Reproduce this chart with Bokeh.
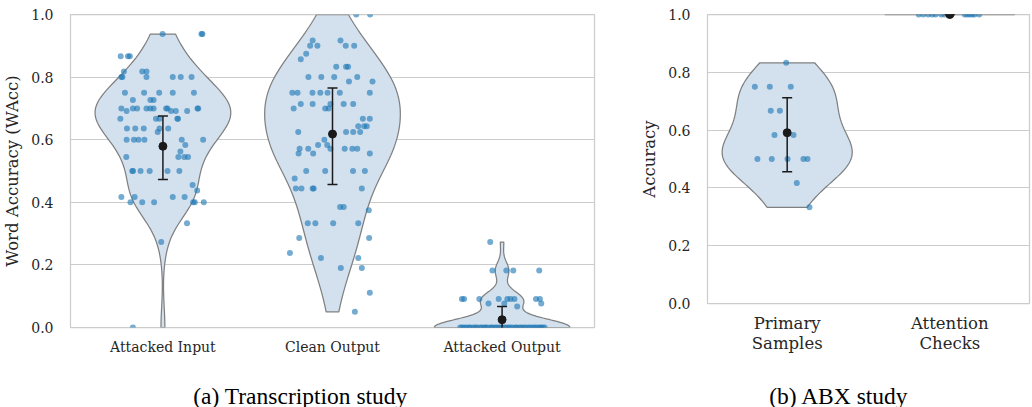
import numpy as np
from bokeh.plotting import figure
from bokeh.models import Range1d, FixedTicker, NumeralTickFormatter
from bokeh.layouts import row, column
from bokeh.core.properties import value
from bokeh.embed import file_html
from bokeh.resources import INLINE

# ---------------- data ----------------
cats_a = ["Attacked Input", "Clean Output", "Attacked Output"]
cats_b = ["Primary\nSamples", "Attention\nChecks"]
y_ticks = [0.0, 0.2, 0.4, 0.6, 0.8, 1.0]
captions = ["(a) Transcription study", "(b) ABX study"]

ai_vals = [0.9375, 0.9375, 0.9375,
           0.867, 0.867, 0.867,
           0.818, 0.8, 0.8,
           0.818, 0.818, 0.8,
           0.8, 0.8, 0.8,
           0.75, 0.75, 0.75, 0.75, 0.75,
           0.727, 0.727, 0.727,
           0.7, 0.7, 0.7, 0.7, 0.7, 0.7, 0.7, 0.7, 0.7, 0.7,
           0.692, 0.692, 0.692, 0.692,
           0.667, 0.667, 0.667, 0.667, 0.667,
           0.636, 0.636, 0.636, 0.636, 0.636,
           0.625,
           0.6, 0.6, 0.6, 0.6, 0.6, 0.6,
           0.583, 0.5625,
           0.545, 0.545, 0.545, 0.545,
           0.5, 0.5, 0.5, 0.5, 0.5, 0.5,
           0.455, 0.4375,
           0.417, 0.417, 0.417, 0.417,
           0.4, 0.4, 0.4, 0.4, 0.4, 0.4,
           0.333, 0.273, 0.0]
ai_jit = [-0.002, 0.233, 0.227,
          -0.249, -0.206, -0.195,
          -0.230, -0.239, -0.245,
          -0.122, -0.097, -0.097,
          0.058, 0.105, 0.169,
          -0.224, -0.111, -0.022, 0.058, 0.183,
          -0.177, -0.074, -0.055,
          -0.245, -0.177, -0.152, -0.097, -0.074, -0.055, 0.019, 0.027, 0.204, 0.208,
          -0.214, 0.048, 0.076, 0.143,
          -0.251, -0.041, -0.020, 0.085, 0.089,
          -0.212, -0.163, -0.113, -0.020, 0.031,
          -0.031,
          -0.214, -0.171, -0.144, -0.109, 0.111, 0.237,
          0.132, 0.103,
          -0.216, 0.091, 0.126, 0.148,
          -0.181, -0.176, -0.132, -0.078, 0.027, 0.097,
          0.175, 0.202,
          -0.245, -0.167, 0.058, 0.128,
          -0.191, -0.122, -0.052, 0.178, 0.188, 0.241,
          0.142, -0.010, -0.177]

co_vals = [1.0, 1.0,
           0.917, 0.917,
           0.9, 0.9, 0.9, 0.9,
           0.875, 0.857,
           0.833, 0.833, 0.833,
           0.8, 0.8, 0.8, 0.8,
           0.786, 0.786,
           0.75, 0.75, 0.75, 0.75, 0.75, 0.75, 0.75,
           0.714, 0.714, 0.714, 0.714, 0.714,
           0.7, 0.7, 0.7,
           0.667, 0.667,
           0.643, 0.643, 0.643,
           0.625, 0.625, 0.625, 0.625,
           0.6,
           0.571, 0.571, 0.571, 0.571, 0.571, 0.571,
           0.583, 0.583,
           0.556, 0.556, 0.556,
           0.5, 0.5, 0.5, 0.5,
           0.476,
           0.444, 0.444, 0.444, 0.444, 0.444,
           0.385, 0.385, 0.375,
           0.333, 0.333, 0.333, 0.333,
           0.286, 0.286,
           0.238,
           0.222, 0.222,
           0.19, 0.19,
           0.111, 0.05]
co_jit = [0.140, 0.222,
          -0.117, 0.047,
          -0.132, -0.089, 0.078, 0.128,
          -0.155, -0.187,
          0.022, 0.080, 0.092,
          -0.142, -0.066, 0.010, 0.146,
          0.097, 0.236,
          -0.237, -0.206, -0.118, -0.072, -0.029, 0.043, 0.220,
          -0.187, -0.117, -0.012, 0.066, 0.122,
          -0.229, -0.043, -0.023,
          0.179, 0.220,
          0.152, 0.187, 0.202,
          -0.202, 0.080, 0.122, 0.163,
          -0.048,
          -0.194, -0.143, -0.012, 0.072, 0.117, 0.146,
          -0.085, -0.031,
          -0.200, -0.114, 0.220,
          -0.155, -0.043, 0.121, 0.191,
          -0.223,
          -0.216, -0.183, -0.117, -0.111, 0.173,
          0.045, 0.066, 0.214,
          -0.146, -0.101, 0.004, 0.152,
          -0.196, 0.216,
          -0.251,
          -0.068, 0.152,
          0.049, 0.173,
          0.220, 0.132]

ao_vals = [0.273,
           0.182, 0.182, 0.182, 0.182,
           0.091, 0.091, 0.091, 0.091, 0.091, 0.091, 0.091, 0.091, 0.091,
           0.077, 0.077, 0.077, 0.067,
           0.0, 0.0, 0.0, 0.0, 0.0, 0.0, 0.0, 0.0, 0.0, 0.0,
           0.0, 0.0, 0.0, 0.0, 0.0, 0.0, 0.0, 0.0, 0.0, 0.0,
           0.0, 0.0, 0.0, 0.0, 0.0, 0.0, 0.0, 0.0, 0.0, 0.0,
           0.0, 0.0, 0.0, 0.0, 0.0, 0.0, 0.0, 0.0, 0.0, 0.0]
ao_jit = [-0.070,
          -0.057, 0.025, 0.066, 0.219,
          -0.237, -0.224, -0.134, -0.020, 0.031, 0.050, 0.073, 0.200, 0.223,
          -0.080, 0.013, 0.231, 0.089,
          -0.247, -0.236, -0.224, -0.211, -0.196, -0.188, -0.171, -0.158, -0.149, -0.131,
          -0.120, -0.104, -0.097, -0.083, -0.066, -0.058, -0.042, -0.031, -0.016, -0.004,
          0.009, 0.022, 0.036, 0.047, 0.061, 0.078, 0.086, 0.103, 0.114, 0.127,
          0.139, 0.154, 0.166, 0.181, 0.192, 0.205, 0.219, 0.228, 0.239, 0.251]

# per-category mean and error bar bounds (a)
a_mean = [0.579, 0.618, 0.025]
a_lo = [0.473, 0.457, -0.017]
a_hi = [0.676, 0.765, 0.067]

ps_vals = [0.833, 0.75, 0.75, 0.75, 0.667, 0.667, 0.583, 0.583,
           0.5, 0.5, 0.5, 0.5, 0.5, 0.417, 0.333]
ps_jit = [-0.006, -0.199, -0.107, 0.022, -0.101, -0.045, -0.078, 0.039,
          -0.183, -0.095, 0.002, 0.100, 0.125, 0.059, 0.137]
ac_vals = [1.0, 1.0, 1.0, 1.0, 1.0, 1.0, 1.0, 1.0, 1.0, 1.0, 1.0, 1.0, 1.0, 1.0]
ac_jit = [-0.191, -0.163, -0.133, -0.108, -0.088, -0.053, -0.033, 0.009,
          0.092, 0.107, 0.123, 0.138, 0.152, 0.181]

b_mean = [0.591, 1.0]
b_lo = [0.456, 1.0]
b_hi = [0.712, 1.0]

# ---------------- styling ----------------
TICK_FONT = "DejaVu Serif"
CAP_FONT = "Liberation Serif"
TXT = "#262626"
VIOLIN_FILL = "#d3e1ef"
VIOLIN_LINE = "#808080"
DOT = "#1f77b4"
HALF_W = 0.4


def kde_profile(vals, bw_adj=1.0, n=100):
    v = np.asarray(vals, float)
    lo, hi = v.min(), v.max()
    if hi - lo < 1e-9:
        return None
    sd = v.std(ddof=1)
    bw = sd * len(v) ** (-0.2) * bw_adj
    grid = np.linspace(lo, hi, n)
    dens = np.exp(-0.5 * ((grid[:, None] - v[None, :]) / bw) ** 2).sum(1)
    return grid, dens / dens.max()


def draw_violin(p, center, vals, bw_adj=1.0):
    prof = kde_profile(vals, bw_adj)
    if prof is None:
        yv = vals[0]
        p.line([center - HALF_W, center + HALF_W], [yv, yv],
               line_color=VIOLIN_LINE, line_width=1.5)
        return
    grid, d = prof
    w = d * HALF_W
    xs = np.concatenate([center + w, (center - w)[::-1]])
    ys = np.concatenate([grid, grid[::-1]])
    p.patch(xs, ys, fill_color=VIOLIN_FILL, line_color=VIOLIN_LINE, line_width=1.25)


def draw_points(p, center, vals, jit):
    p.scatter([center + j for j in jit], vals, size=6, fill_color=DOT,
              fill_alpha=0.62, line_color=None)


def draw_err(p, centers, mean, lo, hi):
    p.segment(x0=centers, y0=lo, x1=centers, y1=hi, line_color="#1a1a1a", line_width=1.5)
    p.scatter(centers, lo, marker="dash", size=10, line_color="#1a1a1a", line_width=1.5)
    p.scatter(centers, hi, marker="dash", size=10, line_color="#1a1a1a", line_width=1.5)
    p.scatter(centers, mean, size=8, fill_color="#1a1a1a", line_color="#1a1a1a")


def style(p, cats, ylabel, xfont, xstandoff):
    p.frame_align = False
    p.outline_line_color = "#cccccc"
    p.outline_line_width = 1.25
    p.xgrid.grid_line_color = None
    p.ygrid.grid_line_color = "#cccccc"
    p.ygrid.grid_line_width = 1
    p.yaxis.ticker = FixedTicker(ticks=y_ticks)
    p.yaxis.formatter = NumeralTickFormatter(format="0.0")
    p.xaxis.ticker = FixedTicker(ticks=list(range(len(cats))))
    p.xaxis.major_label_overrides = {i: c for i, c in enumerate(cats)}
    for ax in (p.xaxis[0], p.yaxis[0]):
        ax.axis_line_color = None
        ax.major_tick_line_color = None
        ax.minor_tick_line_color = None
        ax.major_label_text_font = TICK_FONT
        ax.major_label_text_color = TXT
        ax.major_label_standoff = 11
    p.yaxis.major_label_text_font_size = "14px"
    p.xaxis.major_label_text_font_size = xfont
    p.xaxis.major_label_standoff = xstandoff
    p.xaxis.major_label_text_line_height = 1.1
    p.yaxis.axis_label = ylabel
    p.yaxis.axis_label_text_font = TICK_FONT
    p.yaxis.axis_label_text_font_style = "normal"
    p.yaxis.axis_label_text_font_size = "16.5px"
    p.yaxis.axis_label_text_color = TXT
    p.yaxis.axis_label_standoff = 6


# ---------------- panel (a) ----------------
pa = figure(width=620, height=372, output_backend="svg", toolbar_location=None,
            x_range=Range1d(-0.545, 2.545), y_range=Range1d(0, 1),
            min_border_left=64, min_border_right=26, min_border_top=14,
            min_border_bottom=45)
style(pa, cats_a, "Word Accuracy (WAcc)", "14px", 5)
groups_a = [(ai_vals, ai_jit), (co_vals, co_jit), (ao_vals, ao_jit)]
for i, (v, j) in enumerate(groups_a):
    draw_violin(pa, i, v)
for i, (v, j) in enumerate(groups_a):
    draw_points(pa, i, v, j)
draw_err(pa, [0, 1, 2], a_mean, a_lo, a_hi)

# ---------------- panel (b) ----------------
pb = figure(width=412, height=372, output_backend="svg", toolbar_location=None,
            x_range=Range1d(-0.49, 1.49), y_range=Range1d(0, 1),
            min_border_left=87, min_border_right=3, min_border_top=14,
            min_border_bottom=69)
style(pb, cats_b, "Accuracy", "16.5px", 4)
groups_b = [(ps_vals, ps_jit), (ac_vals, ac_jit)]
for i, (v, j) in enumerate(groups_b):
    draw_violin(pb, i, v)
for i, (v, j) in enumerate(groups_b):
    draw_points(pb, i, v, j)
draw_err(pb, [0, 1], b_mean, b_lo, b_hi)

# ---------------- captions strip ----------------
pc = figure(width=1032, height=35, output_backend="svg", toolbar_location=None,
            x_range=Range1d(0, 1032), y_range=Range1d(0, 35),
            x_axis_location=None, y_axis_location=None, title=None,
            min_border=0)
pc.frame_align = False
pc.grid.grid_line_color = None
pc.outline_line_color = None
pc.text(x=[300, 838.5], y=[12, 12], text=captions, text_align="center",
        text_baseline="alphabetic", text_font=value(CAP_FONT),
        text_font_size="23.5px", text_color="black")

layout = column(row(pa, pb), pc, spacing=0)
open("out.html", "w").write(file_html(layout, INLINE))
